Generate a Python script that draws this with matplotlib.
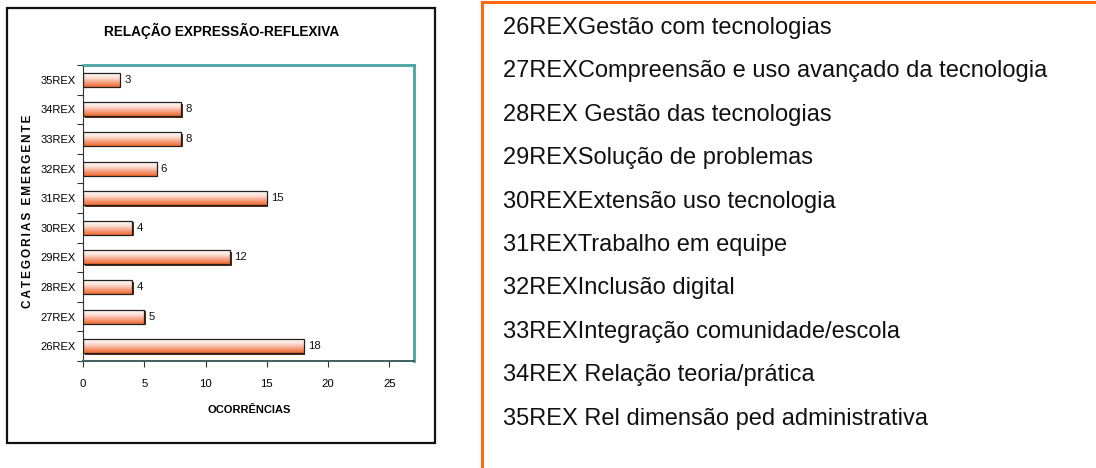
import numpy as np
import matplotlib
matplotlib.use("Agg")
from matplotlib import pyplot as plt
from matplotlib import patches, transforms
from matplotlib.colors import LinearSegmentedColormap
from matplotlib.lines import Line2D

# chart data
categories = ["26REX", "27REX", "28REX", "29REX", "30REX",
              "31REX", "32REX", "33REX", "34REX", "35REX"]
occurrences = [18, 5, 4, 12, 4, 15, 6, 8, 8, 3]
x_ticks = [0, 5, 10, 15, 20, 25]

legend_lines = [
    "26REXGestão com tecnologias",
    "27REXCompreensão e uso avançado da tecnologia",
    "28REX Gestão das tecnologias",
    "29REXSolução de problemas",
    "30REXExtensão uso tecnologia",
    "31REXTrabalho em equipe",
    "32REXInclusão digital",
    "33REXIntegração comunidade/escola",
    "34REX Relação teoria/prática",
    "35REX Rel dimensão ped administrativa",
]

W, H = 1096, 468
font = ["Liberation Sans", "DejaVu Sans"]

fig = plt.figure(figsize=(W / 100, H / 100), dpi=100)

# outer frame of the chart
fig.patches.append(patches.Rectangle((7 / W, 1 - 443 / H), 428 / W, 435 / H,
                                     transform=fig.transFigure, fill=False,
                                     edgecolor="#111111", linewidth=1.6))

ax = fig.add_axes([83 / W, 1 - 361 / H, 331 / W, 296 / H])
pos = np.arange(len(categories))
bh = 0.47

# shadow bars
shadow = ax.barh(pos, occurrences, height=bh, color="#5a2a10", zorder=1)
off = transforms.offset_copy(ax.transData, fig=fig, x=1.5, y=-1.5, units="dots")
for p in shadow:
    p.set_transform(off)

# outlined bars + gradient fill
bars = ax.barh(pos, occurrences, height=bh, facecolor="none",
               edgecolor="#222222", linewidth=0.9, zorder=3)
cmap = LinearSegmentedColormap.from_list(
    "bar", [(0, "#EE6A2C"), (0.3, "#F59A78"), (0.65, "#FCDCD0"), (1, "#FFFFFF")])
grad = np.linspace(0, 1, 64).reshape(-1, 1)
for p in bars:
    x0, y0 = p.get_x(), p.get_y()
    im = ax.imshow(grad, extent=[x0, x0 + p.get_width(), y0, y0 + p.get_height()],
                   origin="lower", aspect="auto", cmap=cmap, zorder=2)
    im.set_clip_path(p)

for y, v in zip(pos, occurrences):
    ax.text(v + 0.35, y, str(v), va="center", ha="left", fontsize=8.2,
            family=font, color="#111111")

ax.set_xlim(0, 27)
ax.set_ylim(-0.5, len(categories) - 0.5)
ax.set_xticks(x_ticks)
ax.set_xticklabels([str(t) for t in x_ticks], family=font, fontsize=8.2)
ax.set_yticks(np.arange(-0.5, len(categories)), labels=[])
ax.set_yticks(pos, minor=True)
ax.set_yticklabels(categories, minor=True, family=font, fontsize=8)
ax.tick_params(axis="y", which="major", length=4, color="#333333", direction="out")
ax.tick_params(axis="y", which="minor", length=0, pad=5.5)
ax.tick_params(axis="x", length=4, color="#333333", direction="out", pad=9)
ax.set_aspect("auto")

ax.spines["left"].set_color("#333333")
ax.spines["bottom"].set_color("#3f5f5f")
ax.spines["bottom"].set_linewidth(1.4)
for s in ("top", "right"):
    ax.spines[s].set_color("#4aa3a3")
    ax.spines[s].set_linewidth(2)

fig.text(221.5 / W, 1 - 31 / H, "RELAÇÃO EXPRESSÃO-REFLEXIVA", ha="center",
         va="center", fontsize=9.8, fontweight="bold", family=font)
fig.text(249 / W, 1 - 410 / H, "OCORRÊNCIAS", ha="center", va="center",
         fontsize=8, fontweight="bold", family=font)
fig.text(28 / W, 1 - 211.5 / H, "\u2006".join("CATEGORIAS EMERGENTE"),
         ha="center", va="center", rotation=90, fontsize=8.5, fontweight="bold",
         family=font)

# orange panel with the category descriptions
orange = "#ff6a10"
fig.add_artist(Line2D([482 / W, 482 / W], [0, 1 - 2 / H], transform=fig.transFigure,
                      color=orange, linewidth=2.2))
fig.add_artist(Line2D([482 / W, 1], [1 - 2 / H, 1 - 2 / H], transform=fig.transFigure,
                      color=orange, linewidth=2.2))
for i, line in enumerate(legend_lines):
    fig.text(503 / W, 1 - (28 + 43.4 * i) / H, line, ha="left", va="center",
             fontsize=17, family=font, color="#111111")

fig.savefig("out.png", dpi=100)
